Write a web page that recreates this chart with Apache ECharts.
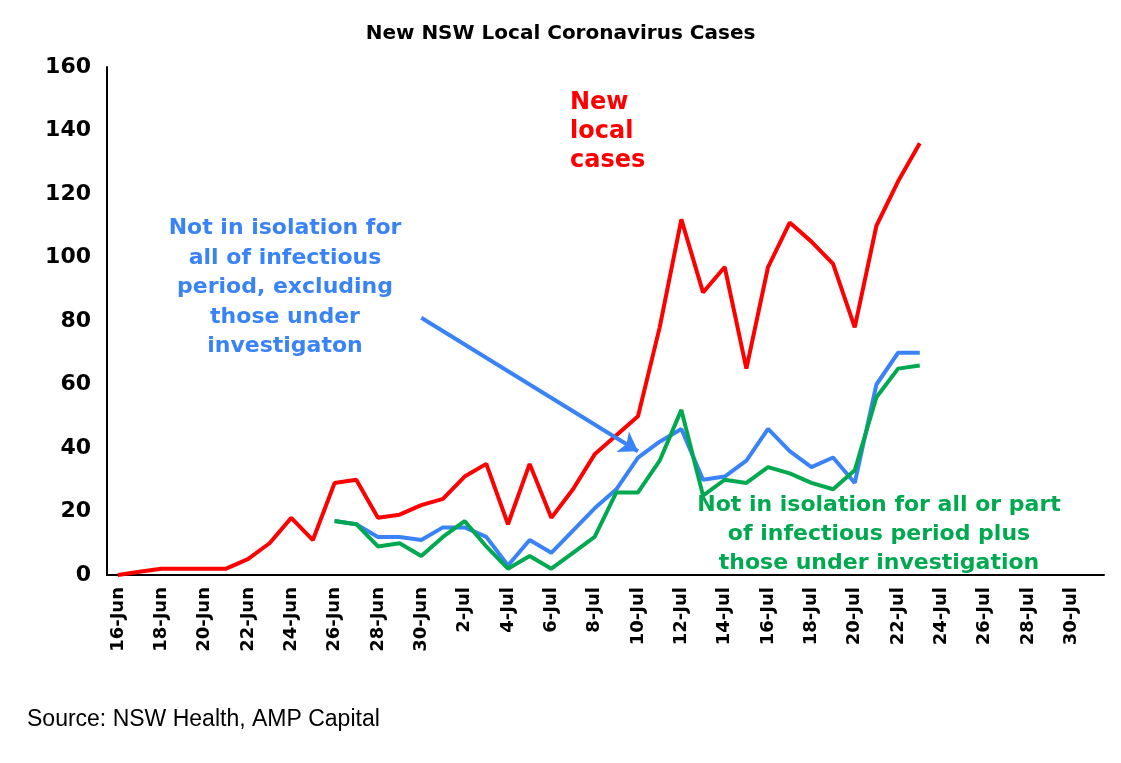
<!DOCTYPE html>
<html><head><meta charset="UTF-8">
<script src="https://cdn.jsdelivr.net/npm/echarts@6/dist/echarts.min.js"></script>
<style>body{margin:0;background:#fff}#chart{width:1121px;height:763px}</style>
</head><body>
<div id="chart"></div>
<script>
// dates 16-Jun .. 31-Jul
var days = [];
for (var d = 16; d <= 30; d++) days.push(d + '-Jun');
for (var d = 1; d <= 31; d++) days.push(d + '-Jul');

var newLocal = [0,1,2,2,2,2,5,10,18,11,29,30,18,19,22,24,31,35,16,35,18,27,38,44,50,78,112,89,97,65,97,111,105,98,78,110,124,136];
// start 26-Jun (index 10)
var notIsolated = [17,16,12,12,11,15,15,12,3,11,7,14,21,27,37,42,46,30,31,36,46,39,34,37,29,60,70,70];
var notIsolatedPlus = [17,16,9,10,6,12,17,9,2,6,2,7,12,26,26,36,52,25,30,29,34,32,29,27,33,56,65,66];

function pad(arr, offset) { var out = []; for (var i = 0; i < offset; i++) out.push('-'); return out.concat(arr); }

var chart = echarts.init(document.getElementById('chart'));
var bold = '"DejaVu Sans", Arial, sans-serif';
var font = 'Arial, "Liberation Sans", sans-serif';
chart.setOption({
  animation: false,
  title: { text: 'New NSW Local Coronavirus Cases', left: 'center', top: 19,
    textStyle: { fontFamily: bold, fontWeight: 'bold', fontSize: 20, color: '#000' } },
  grid: { left: 107, right: 17, top: 67, bottom: 188 },
  xAxis: {
    type: 'category', data: days, boundaryGap: true,
    axisLine: { lineStyle: { color: '#000', width: 2 } },
    axisTick: { interval: 1, length: 8, lineStyle: { color: '#000', width: 2 } },
    axisLabel: { interval: 1, rotate: 90, fontFamily: bold, fontWeight: 'bold', fontSize: 18, color: '#000', margin: 12 }
  },
  yAxis: {
    type: 'value', min: 0, max: 160, interval: 20,
    splitLine: { show: false },
    axisLine: { show: true, lineStyle: { color: '#000', width: 2 } },
    axisTick: { show: false },
    axisLabel: { fontFamily: bold, fontWeight: 'bold', fontSize: 22, color: '#000', margin: 16 }
  },
  series: [
    { type: 'line', data: newLocal, symbol: 'none', lineStyle: { color: '#ff0000', width: 4 } },
    { type: 'line', data: pad(notIsolated, 10), symbol: 'none', lineStyle: { color: '#3a83f7', width: 4 },
      markLine: { silent: true, symbol: ['none', 'arrow'], symbolSize: 18,
        lineStyle: { color: '#3a83f7', width: 4, type: 'solid' }, label: { show: false },
        data: [[{ coord: ['30-Jun', 81] }, { coord: ['10-Jul', 39] }]] } },
    { type: 'line', data: pad(notIsolatedPlus, 10), symbol: 'none', lineStyle: { color: '#00a94f', width: 4 } }
  ],
  graphic: [
    { type: 'text', x: 570, y: 88, style: { text: 'New\nlocal\ncases', fill: '#ff0000',
      font: 'bold 24px ' + bold, lineHeight: 29 } },
    { type: 'text', x: 285, y: 214, style: { text: 'Not in isolation for\nall of infectious\nperiod, excluding\nthose under\ninvestigaton',
      fill: '#3a83f7', font: 'bold 22px ' + bold, lineHeight: 29.5, align: 'center' } },
    { type: 'text', x: 879, y: 491, style: { text: 'Not in isolation for all or part\nof infectious period plus\nthose under investigation',
      fill: '#00a94f', font: 'bold 22px ' + bold, lineHeight: 29, align: 'center' } },
    { type: 'text', x: 27, y: 708, style: { text: 'Source: NSW Health, AMP Capital', fill: '#000', font: '23px ' + font } }
  ]
});
</script>
</body></html>
